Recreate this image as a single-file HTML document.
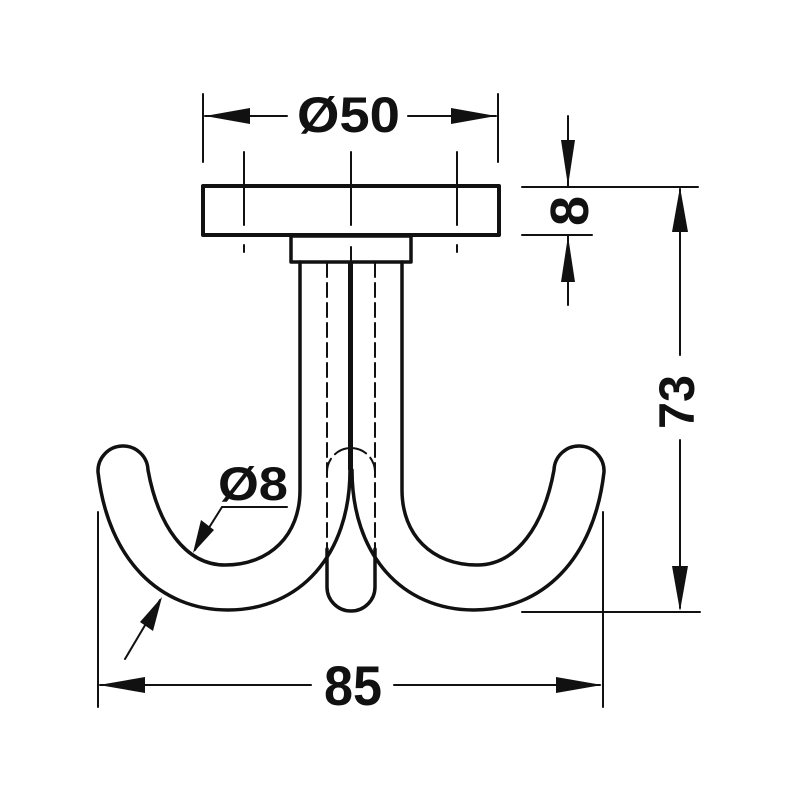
<!DOCTYPE html>
<html><head><style>body{margin:0;background:#fff}svg{display:block}</style></head><body>
<svg width="800" height="800" viewBox="0 0 800 800" xmlns="http://www.w3.org/2000/svg">
<g fill="none" stroke="#111" stroke-linecap="round" stroke-linejoin="round">
<rect x="203" y="186" width="296" height="49" stroke-width="4"/>
<rect x="291" y="236" width="120" height="26" stroke-width="3.5"/>
<path stroke-width="3.5" d="M300,262 V490 C300,535 270,565 225,565 C185,565 158,525 148,470 A24,24 0 0 0 98,472 C108,560 160,610 228,610 C300,610 350,555 350,470"/>
<path stroke-width="3.5" d="M402,262 V490 C402,535 432,565 477,565 C517,565 544,525 554,470 A24,24 0 0 1 604,472 C594,560 542,610 474,610 C402,610 352,555 352,470"/>
<path stroke-width="3.5" d="M327,549 V587 A24,24 0 0 0 375,587 V549"/>
<g stroke-width="2" stroke-dasharray="14,6">
<line x1="327" y1="263" x2="327" y2="549"/>
<line x1="375" y1="263" x2="375" y2="549"/>
<path d="M327,472 A24,24 0 0 1 375,472"/>
</g>
<line x1="350.5" y1="263" x2="350.5" y2="470" stroke-width="5" stroke-linecap="butt"/>
<g stroke-width="2">
<line x1="351" y1="152" x2="351" y2="225"/>
<line x1="351" y1="247" x2="351" y2="262"/>
<line x1="244" y1="152" x2="244" y2="225"/>
<line x1="244" y1="245" x2="244" y2="252"/>
<line x1="457" y1="152" x2="457" y2="225"/>
<line x1="457" y1="245" x2="457" y2="252"/>
<line x1="203" y1="94" x2="203" y2="162"/>
<line x1="498" y1="94" x2="498" y2="162"/>
<line x1="205" y1="116" x2="287" y2="116"/>
<line x1="408" y1="116" x2="496" y2="116"/>
<line x1="522" y1="187" x2="698" y2="187"/>
<line x1="522" y1="235" x2="592" y2="235"/>
<line x1="568" y1="116" x2="568" y2="186"/>
<line x1="568" y1="236" x2="568" y2="305"/>
<line x1="680" y1="189" x2="680" y2="355"/>
<line x1="680" y1="440" x2="680" y2="608"/>
<line x1="522" y1="612" x2="700" y2="612"/>
<line x1="98" y1="512" x2="98" y2="707"/>
<line x1="603" y1="512" x2="603" y2="707"/>
<line x1="100" y1="685" x2="311" y2="685"/>
<line x1="394" y1="685" x2="600" y2="685"/>
<line x1="222" y1="507" x2="287" y2="507"/>
<line x1="222" y1="507" x2="195" y2="550"/>
<line x1="125" y1="659" x2="160" y2="600"/>
</g>
</g>
<g fill="#111" font-family="Liberation Sans, sans-serif" font-weight="bold">
<polygon points="205,116 250,108 250,124"/>
<polygon points="496,116 451,108 451,124"/>
<polygon points="568,186 561,140 575,140"/>
<polygon points="568,236 561,282 575,282"/>
<polygon points="680,187 672,232 688,232"/>
<polygon points="680,611 672,566 688,566"/>
<polygon points="99,685 145,677 145,693"/>
<polygon points="602,685 556,677 556,693"/>
<polygon points="193,553 201,520 214,530"/>
<polygon points="162,597 153,631 140,622"/>
<text x="297" y="132" font-size="50" textLength="103" lengthAdjust="spacingAndGlyphs">Ø50</text>
<text x="324" y="705" font-size="56" textLength="58" lengthAdjust="spacingAndGlyphs">85</text>
<text x="218" y="500" font-size="47" textLength="70" lengthAdjust="spacingAndGlyphs">Ø8</text>
<text transform="translate(588,211) rotate(-90)" font-size="54" text-anchor="middle">8</text>
<text transform="translate(694,402) rotate(-90)" font-size="50" text-anchor="middle" textLength="54" lengthAdjust="spacingAndGlyphs">73</text>
</g>
</svg>
</body></html>
